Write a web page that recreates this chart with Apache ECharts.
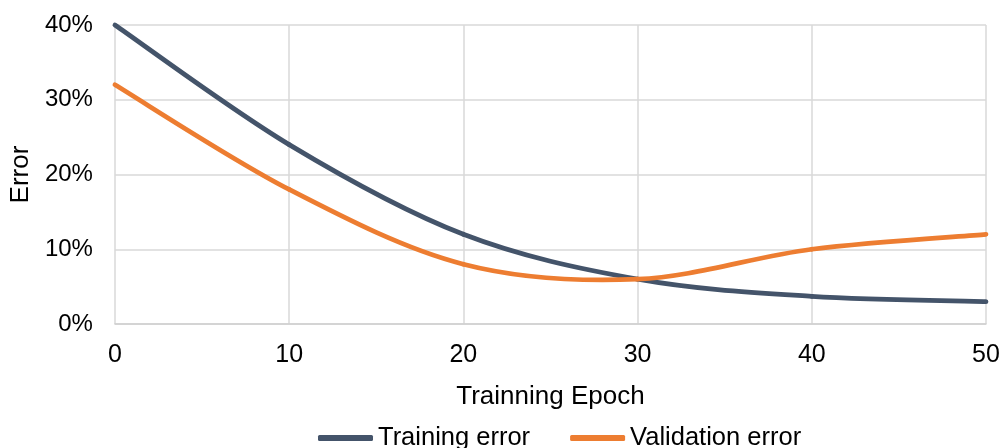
<!DOCTYPE html>
<html>
<head>
<meta charset="utf-8">
<script src="https://cdn.jsdelivr.net/npm/echarts@6/dist/echarts.min.js"></script>
<style>
  html, body { margin: 0; padding: 0; background: #fff; }
  #chart { width: 1003px; height: 448px; }
</style>
</head>
<body>
<div id="chart"></div>
<script>
// Epochs and error rates (percent)
const epochs = [0, 10, 20, 30, 40, 50];
const trainingError = [40, 24, 12, 6, 3.7, 3];
const validationError = [32, 18, 8, 6, 10, 12];
const seriesNames = ['Training error', 'Validation error'];
const seriesColors = ['#44546A', '#ED7D31'];

const FONT = '"Liberation Sans", Arial, sans-serif';
const chart = echarts.init(document.getElementById('chart'));

// Smoothed line: each data item draws the cubic segment to the next point,
// with Catmull-Rom style control points computed in pixel space.
function smoothSegment(ys, color) {
  const n = epochs.length;
  return function (params, api) {
    const i = params.dataIndex;
    if (i >= n - 1) return null;
    const pt = (k) => {
      const j = Math.max(0, Math.min(n - 1, k));
      return api.coord([epochs[j], ys[j]]);
    };
    const p0 = pt(i - 1), p1 = pt(i), p2 = pt(i + 1), p3 = pt(i + 2);
    return {
      type: 'bezierCurve',
      shape: {
        x1: p1[0], y1: p1[1], x2: p2[0], y2: p2[1],
        cpx1: p1[0] + (p2[0] - p0[0]) / 6, cpy1: p1[1] + (p2[1] - p0[1]) / 6,
        cpx2: p2[0] - (p3[0] - p1[0]) / 6, cpy2: p2[1] - (p3[1] - p1[1]) / 6
      },
      style: { stroke: color, lineWidth: 4.75, fill: 'none', lineCap: 'round' }
    };
  };
}

const toPairs = (ys) => epochs.map((x, i) => [x, ys[i]]);

chart.setOption({
  animation: false,
  textStyle: { fontFamily: FONT },
  grid: { left: 113, right: 17, top: 25, bottom: 124 },
  xAxis: {
    type: 'value', min: 0, max: 50, interval: 10,
    name: 'Trainning Epoch', nameLocation: 'middle', nameGap: 60,
    nameTextStyle: { fontSize: 26, color: '#000', fontFamily: FONT },
    axisLine: { show: true, lineStyle: { color: '#d0d0d0', width: 1.5 } },
    axisTick: { show: false },
    axisLabel: { fontSize: 25, color: '#000', margin: 19, fontFamily: FONT },
    splitLine: { show: true, lineStyle: { color: '#d9d9d9', width: 1.5 } }
  },
  yAxis: {
    type: 'value', min: 0, max: 40, interval: 10,
    name: 'Error', nameLocation: 'middle', nameGap: 74,
    nameTextStyle: { fontSize: 26, color: '#000', fontFamily: FONT },
    axisLine: { show: false },
    axisTick: { show: false },
    axisLabel: { fontSize: 24, color: '#000', margin: 22, formatter: '{value}%', fontFamily: FONT },
    splitLine: { show: true, lineStyle: { color: '#d9d9d9', width: 1.5 } }
  },
  legend: {
    top: 420, left: 313, itemGap: 40,
    itemWidth: 55, itemHeight: 6, icon: 'roundRect',
    textStyle: { fontSize: 25.5, color: '#000', fontFamily: FONT },
    data: seriesNames
  },
  series: [trainingError, validationError].map((ys, k) => ({
    name: seriesNames[k],
    type: 'custom',
    data: toPairs(ys),
    encode: { x: 0, y: 1 },
    itemStyle: { color: seriesColors[k] },
    renderItem: smoothSegment(ys, seriesColors[k])
  }))
});
</script>
</body>
</html>
